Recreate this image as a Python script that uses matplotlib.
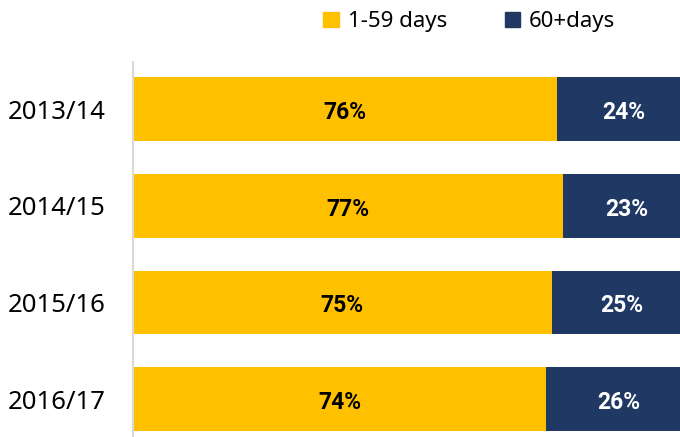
import matplotlib.pyplot as plt
from matplotlib.patches import Patch

years = ['2013/14', '2014/15', '2015/16', '2016/17']
short = [76, 77, 75, 74]
long_ = [24, 23, 25, 26]

yellow = '#FFC000'
navy = '#203864'

plt.rcParams['font.family'] = ['Noto Sans', 'DejaVu Sans']

fig = plt.figure(figsize=(6.8, 4.37), dpi=100)
ax = fig.add_axes([133 / 680, 0, 1 - 133 / 680, 1 - 62 / 437])

pos = list(range(len(years)))
ax.barh(pos, short, height=0.66, color=yellow)
ax.barh(pos, long_, left=short, height=0.66, color=navy)

# percentage labels centred in each segment
for i in pos:
    ax.text(short[i] / 2, i + 0.035, f'{short[i]}%', ha='center', va='center',
            fontsize=16.5, fontweight='bold', family='Roboto', color='black')
    ax.text(short[i] + long_[i] / 2, i + 0.035, f'{long_[i]}%', ha='center', va='center',
            fontsize=16.5, fontweight='bold', family='Roboto', color='white')

ax.set_xlim(0, 98)
ax.set_ylim(3.39, -0.486)
ax.set_yticks(pos)
ax.set_yticklabels(years, fontsize=18.5)
ax.tick_params(axis='y', length=0, pad=20)
ax.set_xticks([])
for s in ['top', 'right', 'bottom']:
    ax.spines[s].set_visible(False)
ax.spines['left'].set_color('#d9d9d9')
ax.spines['left'].set_linewidth(1.5)

handles = [Patch(color=yellow, label='1-59 days'), Patch(color=navy, label='60+days')]
fig.legend(handles=handles, loc='center', bbox_to_anchor=(0.69, 0.95), ncol=2,
           frameon=False, fontsize=16, handlelength=0.7, handleheight=0.7,
           handletextpad=0.4, columnspacing=2.6)

fig.savefig('out.png', dpi=100)
